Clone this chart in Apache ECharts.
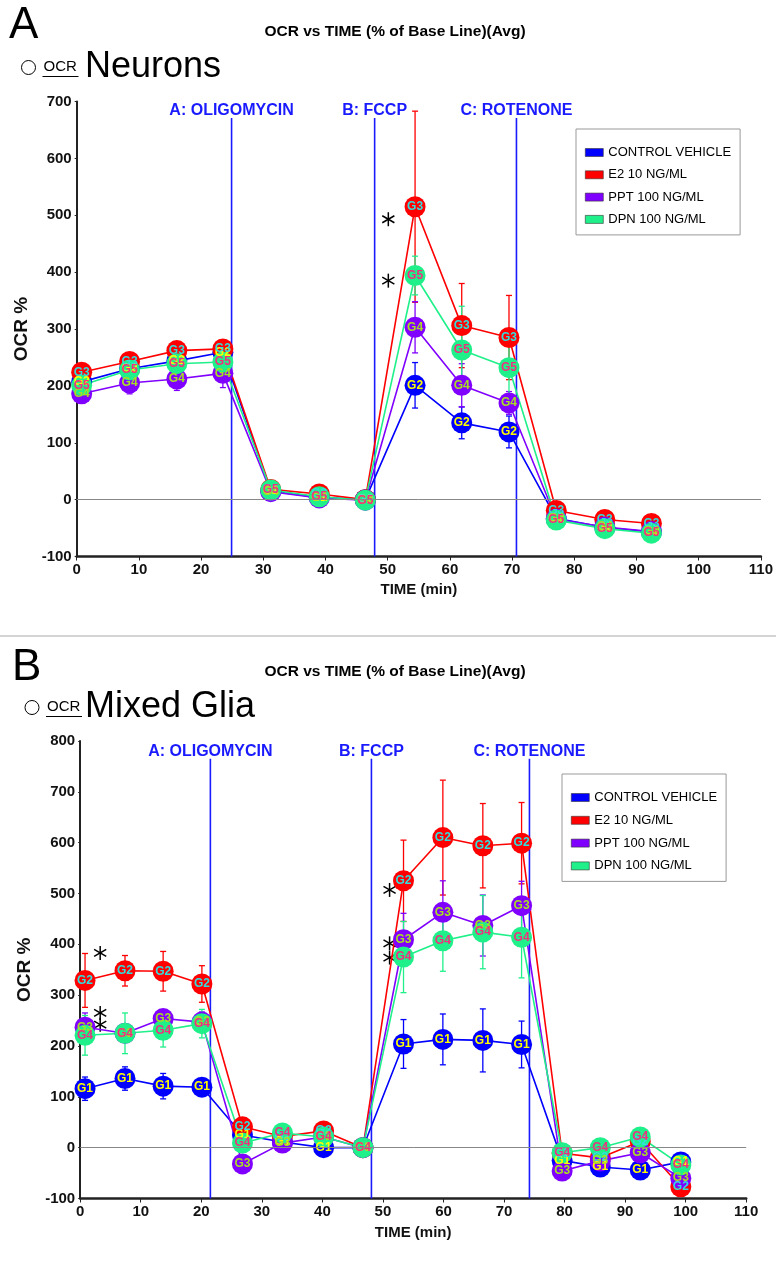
<!DOCTYPE html>
<html>
<head>
<meta charset="utf-8">
<title>OCR vs TIME (% of Base Line)(Avg)</title>
<script src="https://cdn.jsdelivr.net/npm/echarts@6/dist/echarts.min.js"></script>
<style>
    html, body { margin: 0; padding: 0; background: #fff; }
    #main { width: 776px; height: 1276px; }
</style>
</head>
<body>
<div id="main"></div>
<script type="text/javascript">
    // ---- data ----
    var names = ['CONTROL VEHICLE', 'E2 10 NG/ML', 'PPT 100 NG/ML', 'DPN 100 NG/ML'];
    var groupsA = ['G2', 'G3', 'G4', 'G5'];
    var groupsB = ['G1', 'G2', 'G3', 'G4'];

    // A: Neurons
    var timesA = [0.8, 8.5, 16.1, 23.5, 31.2, 39.0, 46.4, 54.4, 61.9, 69.5, 77.1, 84.9, 92.4];
    var ctrlA  = [207, 230, 244, 259, 15, 4, 0, 201, 135, 119, -33, -49, -57];
    var e2A    = [224, 243, 262, 265, 18, 10, 0, 515, 306, 285, -19, -35, -42];
    var pptA   = [186, 205, 212, 222, 14, 3, -1, 303, 201, 170, -34, -48, -56];
    var dpnA   = [201, 228, 239, 242, 17, 5, -1, 394, 263, 232, -36, -51, -59];
    var ctrlSeA = [10, 12, 12, 12, 5, 4, 3, 40, 28, 28, 5, 5, 5];
    var e2SeA   = [10, 10, 10, 12, 5, 4, 3, 168, 74, 74, 6, 5, 5];
    var pptSeA  = [15, 19, 20, 25, 5, 4, 3, 45, 38, 20, 6, 5, 5];
    var dpnSeA  = [12, 10, 12, 15, 5, 4, 3, 34, 77, 68, 6, 5, 5];
    var eventTimesA = [24.9, 47.9, 70.7];
    var starsA = [[50.1, 493], [50.1, 385]];

    // B: Mixed Glia
    var timesB = [0.8, 7.4, 13.7, 20.1, 26.8, 33.4, 40.2, 46.7, 53.4, 59.9, 66.5, 72.9, 79.6, 85.9, 92.5, 99.2];
    var ctrlB  = [116, 136, 121, 119, 25, 11, 0, 0, 204, 213, 211, 203, -25, -38, -44, -28];
    var e2B    = [329, 348, 347, 322, 41, 22, 33, 0, 525, 610, 594, 599, -11, -20, 12, -77];
    var pptB   = [237, 225, 254, 247, -32, 9, 21, 0, 409, 463, 437, 476, -46, -26, -10, -60];
    var dpnB   = [221, 225, 231, 244, 9, 29, 21, 0, 375, 407, 424, 414, -10, 0, 21, -34];
    var ctrlSeB = [23, 23, 25, 15, 8, 6, 5, 3, 48, 50, 62, 46, 8, 8, 8, 8];
    var e2SeB   = [53, 30, 39, 36, 8, 6, 6, 3, 80, 113, 83, 80, 8, 8, 8, 8];
    var pptSeB  = [28, 12, 15, 20, 8, 6, 6, 3, 52, 62, 60, 48, 8, 8, 8, 8];
    var dpnSeB  = [39, 40, 33, 28, 8, 6, 6, 3, 70, 60, 72, 80, 8, 8, 8, 8];
    var eventTimesB = [21.5, 48.1, 74.2];
    var starsB = [[3.3, 383], [3.3, 265], [3.3, 242], [51.1, 507], [51.1, 402], [51.1, 374]];

    var eventNames = ['A: OLIGOMYCIN', 'B: FCCP', 'C: ROTENONE'];
    var xTicks = {min: 0, max: 110, step: 10};
    var yTicksA = {min: -100, max: 700, step: 100};
    var yTicksB = {min: -100, max: 800, step: 100};

    // ---- styles ----
    var FONT = '"Liberation Sans", Arial, sans-serif';
    var colors = ['#0000ff', '#ff0000', '#8000ff', '#1ff08a'];
    var labelColors = ['#ffff00', '#33dddd', '#aadd22', '#f0307f'];

    function errBar(color) {
        return function (params, api) {
            var lo = api.coord([api.value(0), api.value(1)]);
            var hi = api.coord([api.value(0), api.value(2)]);
            var w = 3;
            var st = {stroke: color, lineWidth: 1.3};
            return {type: 'group', children: [
                {type: 'line', shape: {x1: lo[0], y1: lo[1], x2: hi[0], y2: hi[1]}, style: st},
                {type: 'line', shape: {x1: lo[0] - w, y1: lo[1], x2: lo[0] + w, y2: lo[1]}, style: st},
                {type: 'line', shape: {x1: hi[0] - w, y1: hi[1], x2: hi[0] + w, y2: hi[1]}, style: st}
            ]};
        };
    }

    function eventLines(yMin, yTop) {
        return function (params, api) {
            var t = api.value(0);
            var b = api.coord([t, yMin]);
            var tp = api.coord([t, yTop]);
            return {type: 'group', children: [
                {type: 'line', shape: {x1: b[0], y1: b[1], x2: tp[0], y2: tp[1]},
                    style: {stroke: '#1a1aff', lineWidth: 1.6}},
                {type: 'text', style: {text: eventNames[api.value(1)], x: tp[0], y: tp[1] - 7,
                    textAlign: 'center', textVerticalAlign: 'middle', align: 'center', verticalAlign: 'middle',
                    fill: '#1a1aff', font: 'bold 16px ' + FONT}}
            ]};
        };
    }

    function asterisk(params, api) {
        var p = api.coord([api.value(0), api.value(1)]);
        var r = 7, c = Math.cos(Math.PI / 6) * r, s = Math.sin(Math.PI / 6) * r;
        var st = {stroke: '#000', lineWidth: 1.5};
        return {type: 'group', children: [
            {type: 'line', shape: {x1: p[0], y1: p[1] - r, x2: p[0], y2: p[1] + r}, style: st},
            {type: 'line', shape: {x1: p[0] - c, y1: p[1] - s, x2: p[0] + c, y2: p[1] + s}, style: st},
            {type: 'line', shape: {x1: p[0] - c, y1: p[1] + s, x2: p[0] + c, y2: p[1] - s}, style: st}
        ]};
    }

    function panelSeries(gi, times, vals, ses, groups, evTimes, evTop, stars, yMin) {
        var list = [];
        vals.forEach(function (v, k) {
            var line = {
                name: names[k],
                type: 'line',
                xAxisIndex: gi,
                yAxisIndex: gi,
                data: times.map(function (t, i) { return [t, v[i]]; }),
                symbol: 'circle',
                symbolSize: 21,
                lineStyle: {color: colors[k], width: 1.6},
                itemStyle: {color: colors[k]},
                label: {show: true, position: 'inside', formatter: groups[k], color: labelColors[k],
                    fontSize: 12, fontWeight: 'bold', fontFamily: FONT},
                emphasis: {disabled: true},
                animation: false
            };
            if (k === 0) {
                line.markLine = {
                    silent: true, symbol: 'none', animation: false,
                    label: {show: false},
                    lineStyle: {color: '#888', width: 1, type: 'solid'},
                    data: [{yAxis: 0}]
                };
            }
            list.push(line);
            list.push({
                name: names[k] + ' SE',
                type: 'custom',
                xAxisIndex: gi,
                yAxisIndex: gi,
                data: times.map(function (t, i) { return [t, v[i] - ses[k][i], v[i] + ses[k][i]]; }),
                encode: {x: 0, y: [1, 2]},
                renderItem: errBar(colors[k]),
                silent: true,
                animation: false
            });
        });
        list.push({
            type: 'custom', xAxisIndex: gi, yAxisIndex: gi, silent: true, animation: false,
            data: evTimes.map(function (t, i) { return [t, i]; }),
            encode: {x: 0},
            renderItem: eventLines(yMin, evTop)
        });
        list.push({
            type: 'custom', xAxisIndex: gi, yAxisIndex: gi, silent: true, animation: false,
            data: stars,
            encode: {x: 0, y: 1},
            renderItem: asterisk
        });
        return list;
    }

    function xAxisCfg(gi, gap) {
        return {
            gridIndex: gi, type: 'value', min: xTicks.min, max: xTicks.max, interval: xTicks.step,
            name: 'TIME (min)', nameLocation: 'middle', nameGap: gap,
            nameTextStyle: {fontFamily: FONT, fontWeight: 'bold', fontSize: 15, color: '#111'},
            axisLine: {onZero: false, lineStyle: {color: '#222', width: 2.5}},
            axisTick: {show: true, length: 4, lineStyle: {color: '#222', width: 1}},
            axisLabel: {fontFamily: FONT, fontWeight: 'bold', fontSize: 15, color: '#111', margin: 6},
            splitLine: {show: false}
        };
    }

    function yAxisCfg(gi, ticks, gap) {
        return {
            gridIndex: gi, type: 'value', min: ticks.min, max: ticks.max, interval: ticks.step,
            name: 'OCR %', nameLocation: 'middle', nameGap: gap,
            nameTextStyle: {fontFamily: FONT, fontWeight: 'bold', fontSize: 19, color: '#111'},
            axisLine: {show: true, onZero: false, lineStyle: {color: '#222', width: 2}},
            axisTick: {show: true, length: 2, lineStyle: {color: '#222', width: 1}},
            axisLabel: {fontFamily: FONT, fontWeight: 'bold', fontSize: 15, color: '#111', margin: 5,
                padding: [0, 0, 4, 0]},
            splitLine: {show: false}
        };
    }

    function legendCfg(left, top, gap) {
        return {
            data: names, orient: 'vertical', left: left, top: top,
            padding: [17, 9, 9, 9], itemGap: gap, itemWidth: 18, itemHeight: 8, icon: 'rect',
            borderColor: '#999', borderWidth: 1, selectedMode: false,
            itemStyle: {borderColor: '#333', borderWidth: 0.6},
            textStyle: {fontFamily: FONT, fontSize: 13, lineHeight: 13, color: '#000'}
        };
    }

    function heading(letter, lx, ly, titleY, sub, cx, cy) {
        return [
            {type: 'text', x: lx, y: ly, style: {text: letter, font: '44px ' + FONT, fill: '#000',
                textVerticalAlign: 'middle', verticalAlign: 'middle'}},
            {type: 'text', x: 395, y: titleY, style: {text: 'OCR vs TIME (% of Base Line)(Avg)',
                font: 'bold 15.5px ' + FONT, fill: '#000', textAlign: 'center', align: 'center',
                textVerticalAlign: 'middle', verticalAlign: 'middle'}},
            {type: 'circle', shape: {cx: cx, cy: cy, r: 7}, style: {fill: 'none', stroke: '#000', lineWidth: 1}},
            {type: 'text', x: cx + 15, y: cy - 1, style: {text: 'OCR', font: '15px ' + FONT, fill: '#000',
                textVerticalAlign: 'middle', verticalAlign: 'middle'}},
            {type: 'line', shape: {x1: cx + 14, y1: cy + 9, x2: cx + 50, y2: cy + 9}, style: {stroke: '#000', lineWidth: 1}},
            {type: 'text', x: 85, y: cy, style: {text: sub, font: '36px ' + FONT, fill: '#000',
                textVerticalAlign: 'middle', verticalAlign: 'middle'}}
        ];
    }

    var chart = echarts.init(document.getElementById('main'));

    var option = {
        backgroundColor: '#fff',
        animation: false,
        grid: [
            {left: 76.7, top: 101.5, width: 687.8, height: 455},
            {left: 80.2, top: 741, width: 666, height: 457.5}
        ],
        xAxis: [xAxisCfg(0, 26), xAxisCfg(1, 27)],
        yAxis: [yAxisCfg(0, yTicksA, 42), yAxisCfg(1, yTicksB, 43)],
        legend: [legendCfg(576, 129, 9.3), legendCfg(562, 774, 9.8)],
        graphic: heading('A', 9, 26, 31.5, 'Neurons', 28.5, 67.5)
            .concat(heading('B', 12, 668, 671.5, 'Mixed Glia', 32, 707.5))
            .concat([{type: 'line', shape: {x1: 0, y1: 636, x2: 776, y2: 636}, style: {stroke: '#aaa', lineWidth: 1}}]),
        series: panelSeries(0, timesA, [ctrlA, e2A, pptA, dpnA], [ctrlSeA, e2SeA, pptSeA, dpnSeA],
                groupsA, eventTimesA, 671, starsA, yTicksA.min)
            .concat(panelSeries(1, timesB, [ctrlB, e2B, pptB, dpnB], [ctrlSeB, e2SeB, pptSeB, dpnSeB],
                groupsB, eventTimesB, 765, starsB, yTicksB.min))
    };

    chart.setOption(option);
</script>
</body>
</html>
